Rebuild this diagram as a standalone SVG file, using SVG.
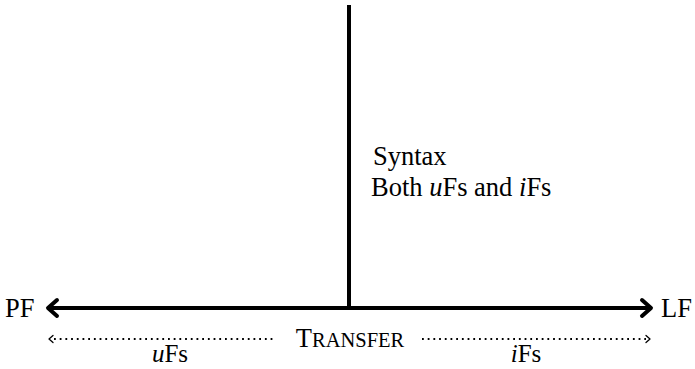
<svg xmlns="http://www.w3.org/2000/svg" width="695" height="369" viewBox="0 0 695 369">
<style>
text{font-family:"Liberation Serif","Times New Roman",serif;font-size:26.5px;fill:#000}
.sc{font-size:20.5px}
.lo{font-size:25px}
.thick{stroke:#000;stroke-width:4;fill:none}
.dot{stroke:#000;stroke-width:1.8;fill:none;stroke-dasharray:1.8 3.9}
.head{stroke:#000;stroke-width:4;fill:none;stroke-linecap:round;stroke-linejoin:round}
.dhead{stroke:#000;stroke-width:1.3;fill:none;stroke-linecap:round;stroke-linejoin:round}
</style>
<g id="connectors">
<line class="thick" x1="50" y1="308" x2="649" y2="308"/>
<path class="head" d="M57 300 L48 308 L57 316"/>
<path class="head" d="M642 300 L651 308 L642 316"/>
<line class="thick" x1="349" y1="5" x2="349" y2="308"/>
<line class="dot" x1="54" y1="339" x2="276" y2="339"/>
<path class="dhead" d="M53 335.5 L49 339 L53 342.5"/>
<line class="dot" x1="422" y1="339" x2="646" y2="339"/>
<path class="dhead" d="M646 335.5 L650 339 L646 342.5"/>
</g>
<g id="PF"><text x="5" y="317">PF</text></g>
<g id="LF"><text x="661" y="317">LF</text></g>
<g id="syntax">
<text x="373" y="165">Syntax</text>
<text x="371" y="196">Both <tspan font-style="italic">u</tspan>Fs and <tspan font-style="italic">i</tspan>Fs</text>
</g>
<g id="transfer"><text x="350" y="347" text-anchor="middle">T<tspan class="sc">RANSFER</tspan></text></g>
<g id="uFs"><text class="lo" x="170" y="362" text-anchor="middle"><tspan font-style="italic">u</tspan>Fs</text></g>
<g id="iFs"><text class="lo" x="526" y="362" text-anchor="middle"><tspan font-style="italic">i</tspan>Fs</text></g>
</svg>
